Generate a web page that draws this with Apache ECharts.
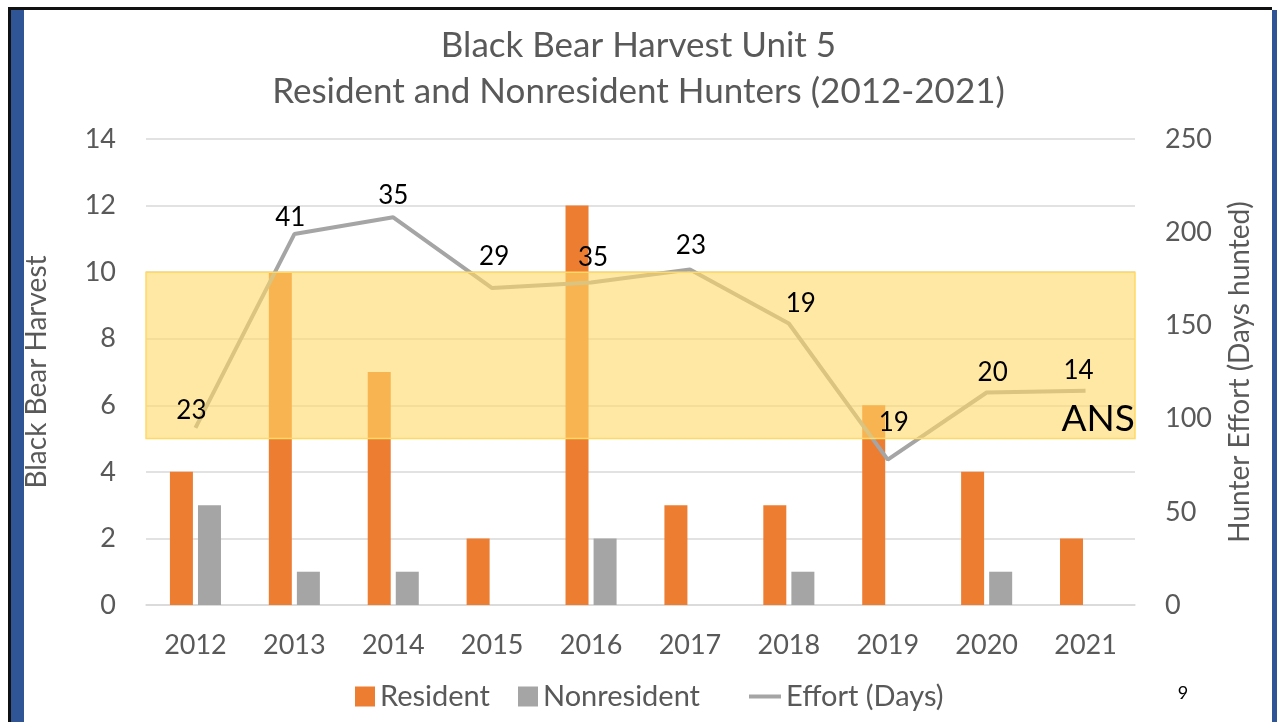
<!DOCTYPE html>
<html>
<head>
<meta charset="utf-8">
<script src="https://cdn.jsdelivr.net/npm/echarts@6/dist/echarts.min.js"></script>
<style>
  html, body { margin: 0; padding: 0; background: #fff; }
  #chart { width: 1277px; height: 722px; }
</style>
</head>
<body>
<div id="chart"></div>
<script>
// data
var years = ['2012', '2013', '2014', '2015', '2016', '2017', '2018', '2019', '2020', '2021'];
var resident = [4, 10, 7, 2, 12, 3, 3, 6, 4, 2];
var nonresident = [3, 1, 1, 0, 2, 0, 1, 0, 1, 0];
var effortDays = [95, 199, 208, 170, 173, 180, 151, 78, 114, 115];
var hunterCounts = [23, 41, 35, 29, 35, 23, 19, 19, 20, 14];
var ansRange = [5, 10];

// hand-placed label nudges, as on the slide
var labelNudge = [[-4, 2], [-4, 3], [0, -2], [2, -12], [2, -5], [1, -4], [12, 0], [6, -17], [6, 0], [-7, -1]];

var grey = '#595959';
var font = 'Lato';

var hunterLabels = effortDays.map(function (v, i) {
    return { value: v, label: { offset: labelNudge[i] } };
});

var myChart = echarts.init(document.getElementById('chart'));
myChart.setOption({
    animation: false,
    textStyle: { fontFamily: font },
    title: {
        text: 'Black Bear Harvest Unit 5\nResident and Nonresident Hunters (2012-2021)',
        left: 'center',
        top: 18,
        textStyle: { fontFamily: font, fontSize: 35, fontWeight: 'normal', color: grey, lineHeight: 46 }
    },
    grid: { left: 146, right: 142, top: 139, bottom: 117 },
    legend: [{
        data: [
            { name: 'Resident', icon: 'rect' },
            { name: 'Nonresident', icon: 'rect' }
        ],
        left: 350,
        bottom: 6,
        itemGap: 28,
        itemWidth: 20,
        itemHeight: 20,
        textStyle: { fontFamily: font, fontSize: 29, color: grey }
    }, {
        data: [{ name: 'Effort (Days)', icon: 'rect' }],
        left: 744,
        bottom: 6,
        itemWidth: 32,
        itemHeight: 4,
        textStyle: { fontFamily: font, fontSize: 29, color: grey }
    }],
    xAxis: {
        type: 'category',
        data: years,
        axisLine: { lineStyle: { color: '#D9D9D9', width: 1.5 } },
        axisTick: { show: false },
        axisLabel: { fontFamily: font, fontSize: 27, color: grey, margin: 27 }
    },
    yAxis: [{
        type: 'value',
        min: 0, max: 14, interval: 2,
        name: 'Black Bear Harvest',
        nameLocation: 'middle',
        nameGap: 95,
        nameTextStyle: { fontFamily: font, fontSize: 28, color: grey },
        axisLabel: { fontFamily: font, fontSize: 27, color: grey, margin: 30 },
        splitLine: { lineStyle: { color: '#D9D9D9', width: 1.5 } }
    }, {
        type: 'value',
        min: 0, max: 250, interval: 50,
        name: 'Hunter Effort (Days hunted)',
        nameLocation: 'middle',
        nameGap: 91,
        nameRotate: 90,
        nameTextStyle: { fontFamily: font, fontSize: 28, color: grey },
        axisLabel: { fontFamily: font, fontSize: 27, color: grey, margin: 30 },
        splitLine: { show: false }
    }],
    series: [{
        name: 'Resident',
        type: 'bar',
        data: resident,
        barWidth: 23,
        barGap: '22%',
        itemStyle: { color: '#ED7D31' },
        z: 2
    }, {
        name: 'Nonresident',
        type: 'bar',
        data: nonresident,
        barWidth: 23,
        itemStyle: { color: '#A5A5A5' },
        z: 2
    }, {
        name: 'Effort (Days)',
        type: 'line',
        yAxisIndex: 1,
        data: effortDays,
        symbol: 'none',
        lineStyle: { color: '#A5A5A5', width: 4 },
        itemStyle: { color: '#A5A5A5' },
        z: 3
    }, {
        // highlighted band drawn over bars and line
        name: 'ANS band',
        type: 'line',
        data: [],
        silent: true,
        z: 4,
        markArea: {
            silent: true,
            z: 10,
            itemStyle: { color: 'rgba(255,217,102,0.6)', borderColor: '#FFD966', borderWidth: 1.5 },
            label: {
                show: true,
                position: 'insideBottomRight',
                offset: [4, 3],
                formatter: 'ANS',
                fontFamily: font,
                fontSize: 37,
                color: '#000'
            },
            data: [[{ yAxis: ansRange[0] }, { yAxis: ansRange[1] }]]
        }
    }, {
        // hunter counts shown above the effort line
        name: 'Hunters',
        type: 'line',
        yAxisIndex: 1,
        data: hunterLabels,
        symbol: 'circle',
        symbolSize: 1,
        showSymbol: true,
        silent: true,
        itemStyle: { color: 'rgba(0,0,0,0)' },
        lineStyle: { opacity: 0 },
        label: {
            show: true,
            position: 'top',
            distance: 6,
            fontFamily: font,
            fontSize: 26,
            color: '#000',
            formatter: function (p) { return hunterCounts[p.dataIndex]; }
        },
        z: 20
    }],
    graphic: [
        { type: 'rect', shape: { x: 8, y: 7, width: 1264, height: 3 }, style: { fill: '#111' } },
        { type: 'rect', shape: { x: 8, y: 7, width: 3, height: 715 }, style: { fill: '#111' } },
        { type: 'rect', shape: { x: 11, y: 10, width: 13, height: 712 }, style: { fill: '#2F5597' } },
        { type: 'rect', shape: { x: 1272, y: 10, width: 5, height: 712 }, style: { fill: '#2F5597' } },
        { type: 'text', x: 1183, y: 693, style: { text: '9', fill: '#000', font: '18px Lato', align: 'center', verticalAlign: 'middle' } }
    ]
});
</script>
</body>
</html>
